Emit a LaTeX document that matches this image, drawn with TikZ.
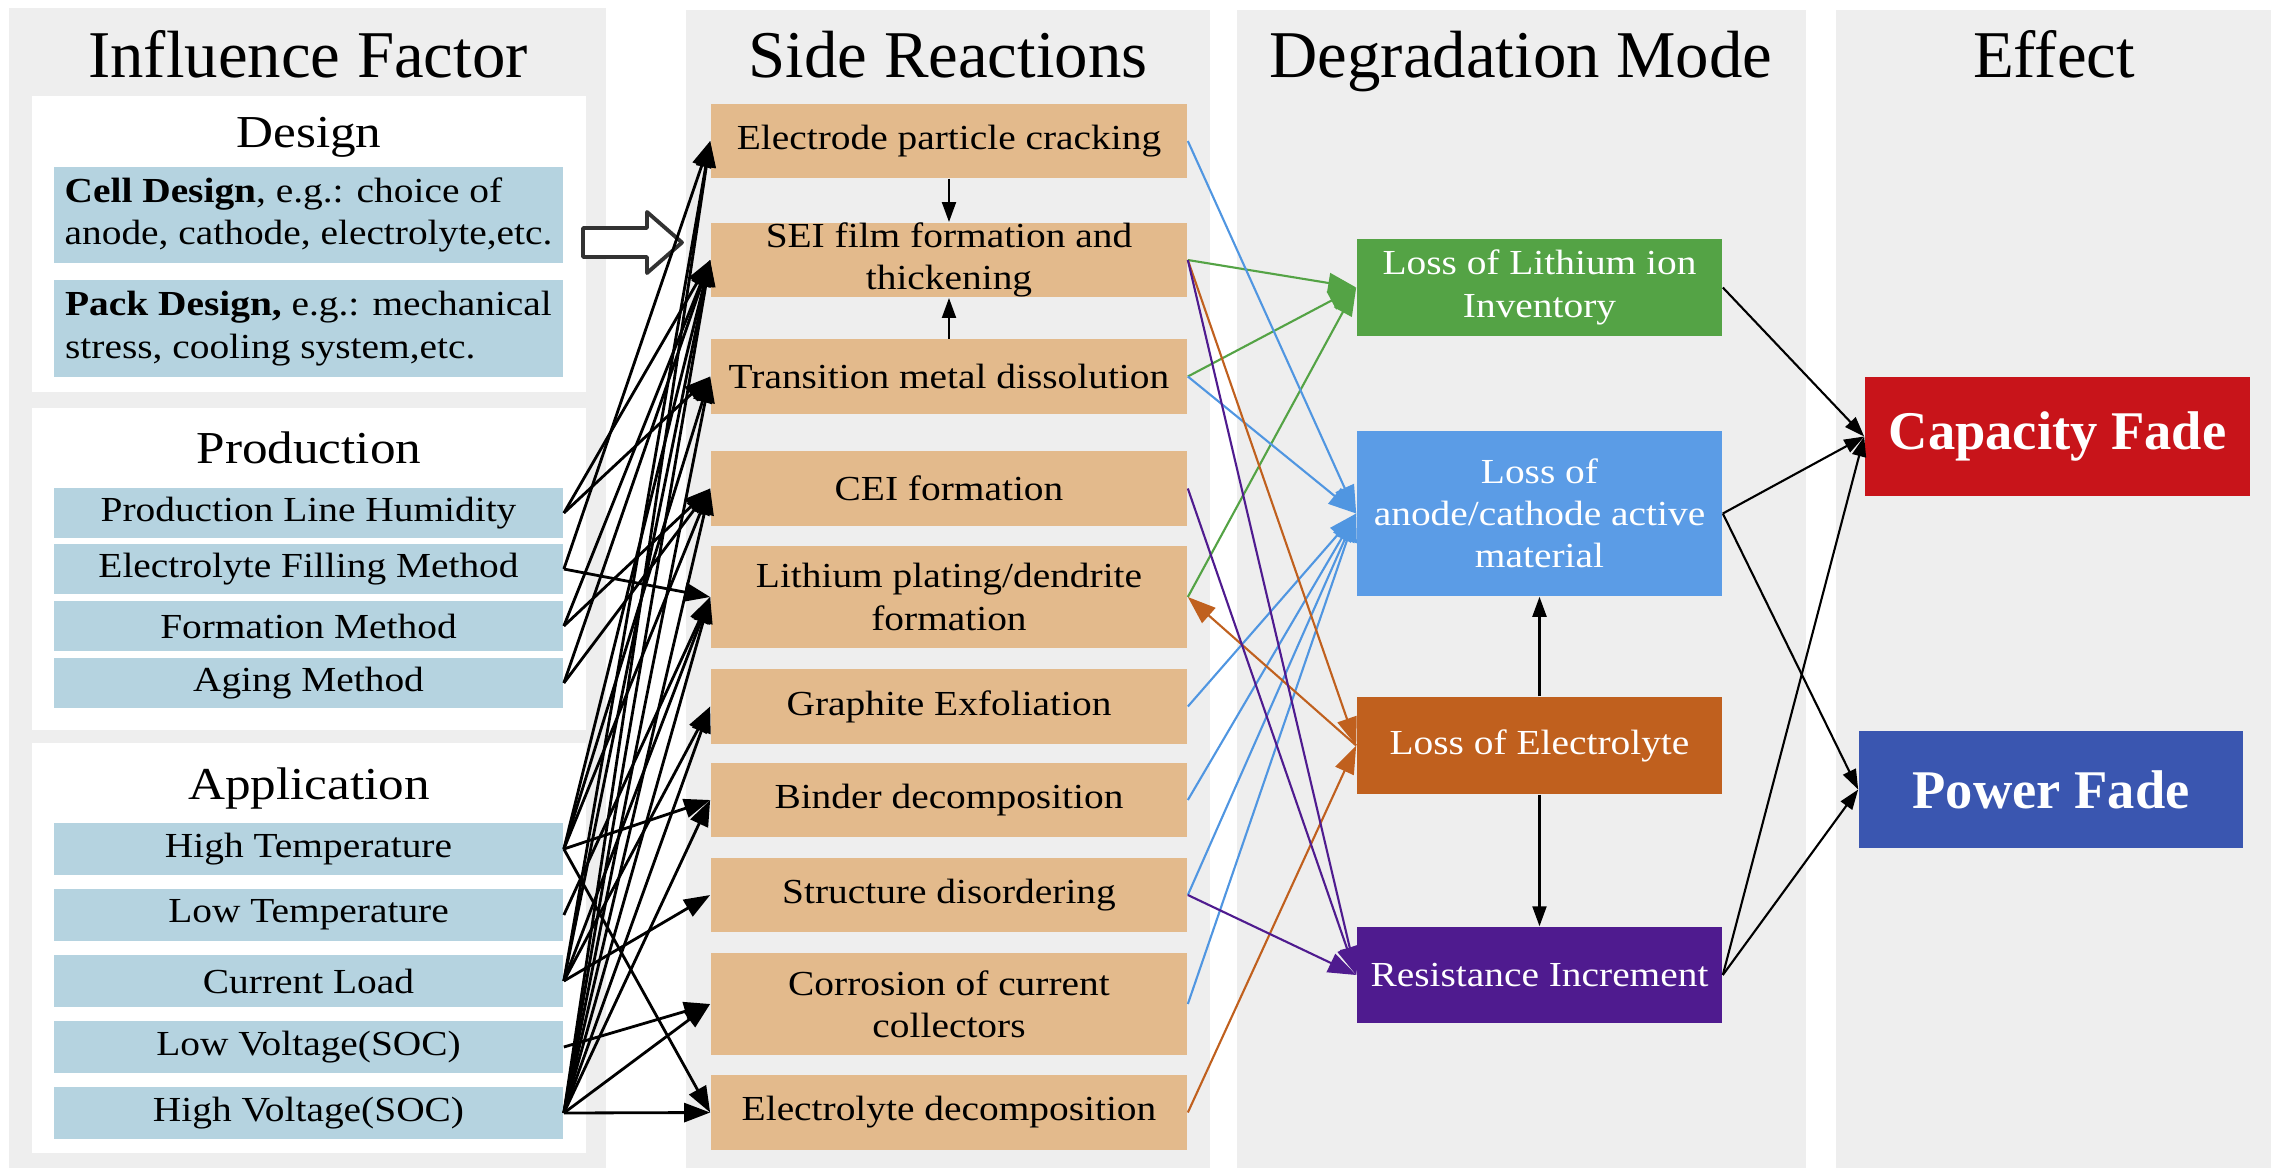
\documentclass[tikz,border=0pt]{standalone}
\usepackage{fontspec}
\setmainfont{Liberation Serif}
\newfontfamily\bodyfont[FakeStretch=1.12]{Liberation Serif}
\usetikzlibrary{arrows.meta}
\definecolor{bggray}{RGB}{238,238,238}
\definecolor{lblue}{RGB}{181,211,224}
\definecolor{tan}{RGB}{227,186,140}
\definecolor{dmgreen}{RGB}{84,163,69}
\definecolor{dmblue}{RGB}{91,156,230}
\definecolor{dmorange}{RGB}{192,96,30}
\definecolor{dmpurple}{RGB}{79,27,143}
\definecolor{efred}{RGB}{200,20,26}
\definecolor{efblue}{RGB}{58,86,176}
\definecolor{lnblue}{RGB}{80,150,225}
\definecolor{hollow}{RGB}{50,50,50}
\tikzset{
  titletxt/.style={font=\fontsize{19}{22}\selectfont, anchor=base, inner sep=0pt},
  headtxt/.style={font=\bodyfont\fontsize{13}{15}\selectfont, anchor=base, inner sep=0pt},
  bodytxt/.style={font=\bodyfont\fontsize{10}{12}\selectfont, align=center, inner sep=0pt},
  bluebox/.style={bodytxt, fill=lblue, minimum width=5.09cm},
  srbox/.style={bodytxt, fill=tan, minimum width=4.76cm, minimum height=0.74cm},
  dmbox/.style={bodytxt, text=white, minimum width=3.65cm},
  efbox/.style={font=\fontsize{15.5}{18}\selectfont\bfseries, text=white, inner sep=0pt},
  blk/.style={line width=0.8pt, -{Triangle[length=0.26cm,width=0.19cm]}},
  clr/.style={line width=0.6pt, -{Triangle[length=0.28cm,width=0.2cm]}},
  thin/.style={line width=0.6pt, -{Triangle[length=0.2cm,width=0.14cm]}},
}
\begin{document}
\begin{tikzpicture}[x=0.01cm,y=-0.01cm]
\useasboundingbox (0,0) rectangle (2271,1175);
\fill[white] (0,0) rectangle (2271,1175);
% column backgrounds
\fill[bggray] (9,8) rectangle (606,1168);
\fill[bggray] (686,10) rectangle (1210,1168);
\fill[bggray] (1237,10) rectangle (1806,1168);
\fill[bggray] (1836,10) rectangle (2271,1168);
% white panels
\fill[white] (32,96) rectangle (586,392);
\fill[white] (32,408) rectangle (586,730);
\fill[white] (32,743) rectangle (586,1153);
% titles
\node[titletxt] (t1) at (308,77) {Influence Factor};
\node[titletxt] (t2) at (948,77) {Side Reactions};
\node[titletxt] (t3) at (1521,77) {Degradation Mode};
\node[titletxt] (t4) at (2054,77) {Effect};
% section headers
\node[headtxt] (hdes) at (309,147) {Design};
\node[headtxt] (hpro) at (309,463) {Production};
\node[headtxt] (happ) at (309,799) {Application};
% influence factor boxes
\node[bluebox, minimum height=0.96cm, align=left] (cell) at (308.5,215) {\textbf{Cell Design}, e.g.: choice of\\anode, cathode, electrolyte,etc.};
\node[bluebox, minimum height=0.97cm, align=left] (pack) at (308.5,328.5) {\textbf{Pack Design,} e.g.: mechanical\\stress, cooling system,etc.};
\node[bluebox, minimum height=0.50cm] (plh) at (308.5,513) {Production Line Humidity};
\node[bluebox, minimum height=0.50cm] (efm) at (308.5,569) {Electrolyte Filling Method};
\node[bluebox, minimum height=0.50cm] (fm) at (308.5,626) {Formation Method};
\node[bluebox, minimum height=0.50cm] (am) at (308.5,683) {Aging Method};
\node[bluebox, minimum height=0.51cm] (ht) at (308.5,849) {High Temperature};
\node[bluebox, minimum height=0.51cm] (lt) at (308.5,915) {Low Temperature};
\node[bluebox, minimum height=0.51cm] (cl) at (308.5,981) {Current Load};
\node[bluebox, minimum height=0.51cm] (lv) at (308.5,1047) {Low Voltage(SOC)};
\node[bluebox, minimum height=0.51cm] (hv) at (308.5,1113) {High Voltage(SOC)};
% side reactions
\node[srbox] (sr1) at (949,141) {Electrode particle cracking};
\node[srbox] (sr2) at (949,260) {SEI film formation and\\thickening};
\node[srbox] (sr3) at (949,376.5) {Transition metal dissolution};
\node[srbox] (sr4) at (949,488.5) {CEI formation};
\node[srbox, minimum height=1.02cm] (sr5) at (949,597) {Lithium plating/dendrite\\formation};
\node[srbox] (sr6) at (949,706.5) {Graphite Exfoliation};
\node[srbox] (sr7) at (949,800) {Binder decomposition};
\node[srbox] (sr8) at (949,895) {Structure disordering};
\node[srbox, minimum height=1.02cm] (sr9) at (949,1004) {Corrosion of current\\collectors};
\node[srbox] (sr10) at (949,1112.5) {Electrolyte decomposition};
% degradation modes
\node[dmbox, fill=dmgreen, minimum height=0.97cm] (lli) at (1539.5,287.5) {Loss of Lithium ion\\Inventory};
\node[dmbox, fill=dmblue, minimum height=1.65cm] (act) at (1539.5,513.5) {Loss of\\anode/cathode active\\material};
\node[dmbox, fill=dmorange, minimum height=0.97cm] (loe) at (1539.5,745.5) {Loss of Electrolyte};
\node[dmbox, fill=dmpurple, minimum height=0.96cm] (res) at (1539.5,975) {Resistance Increment};
% effects
\node[efbox, fill=efred, minimum width=3.85cm, minimum height=1.19cm] (cap) at (2057.5,436.5) {Capacity Fade};
\node[efbox, fill=efblue, minimum width=3.84cm, minimum height=1.17cm] (pow) at (2051,789.5) {Power Fade};
% hollow arrow from design
\draw[hollow, line width=1.1pt, fill=white, line join=round]
  (583,228) -- (647,228) -- (647,212) -- (682,242.5) -- (647,273) -- (647,257) -- (583,257) -- cycle;
% influence factor -> side reactions
\foreach \s/\t in {plh/sr2, plh/sr3, efm/sr1, efm/sr5, fm/sr2, fm/sr4, am/sr2, am/sr4,
  ht/sr2, ht/sr3, ht/sr4, ht/sr7, ht/sr10, lt/sr5,
  cl/sr1, cl/sr2, cl/sr5, cl/sr6, cl/sr8, lv/sr9,
  hv/sr1, hv/sr2, hv/sr3, hv/sr4, hv/sr5, hv/sr6, hv/sr7, hv/sr9, hv/sr10}
  \draw[blk] (\s.east) -- (\t.west);
% internal side reaction arrows
\draw[thin] (sr1.south) -- (sr2.north);
\draw[thin] (sr3.north) -- (sr2.south);
% side reactions -> degradation modes
\foreach \s in {sr2, sr3, sr5} \draw[clr, dmgreen] (\s.east) -- (lli.west);
\foreach \s in {sr1, sr3, sr6, sr7, sr8, sr9} \draw[clr, lnblue] (\s.east) -- (act.west);
\foreach \s in {sr2, sr10} \draw[clr, dmorange] (\s.east) -- (loe.west);
\draw[clr, dmorange] (loe.west) -- (sr5.east);
\foreach \s in {sr2, sr4, sr8} \draw[clr, dmpurple] (\s.east) -- (res.west);
% degradation internal
\draw[thin] (loe.north) -- (act.south);
\draw[thin] (loe.south) -- (res.north);
% degradation -> effect
\draw[thin] (lli.east) -- (cap.west);
\draw[thin] (act.east) -- (cap.west);
\draw[thin] (act.east) -- (pow.west);
\draw[thin] (res.east) -- (cap.west);
\draw[thin] (res.east) -- (pow.west);
\end{tikzpicture}
\end{document}
